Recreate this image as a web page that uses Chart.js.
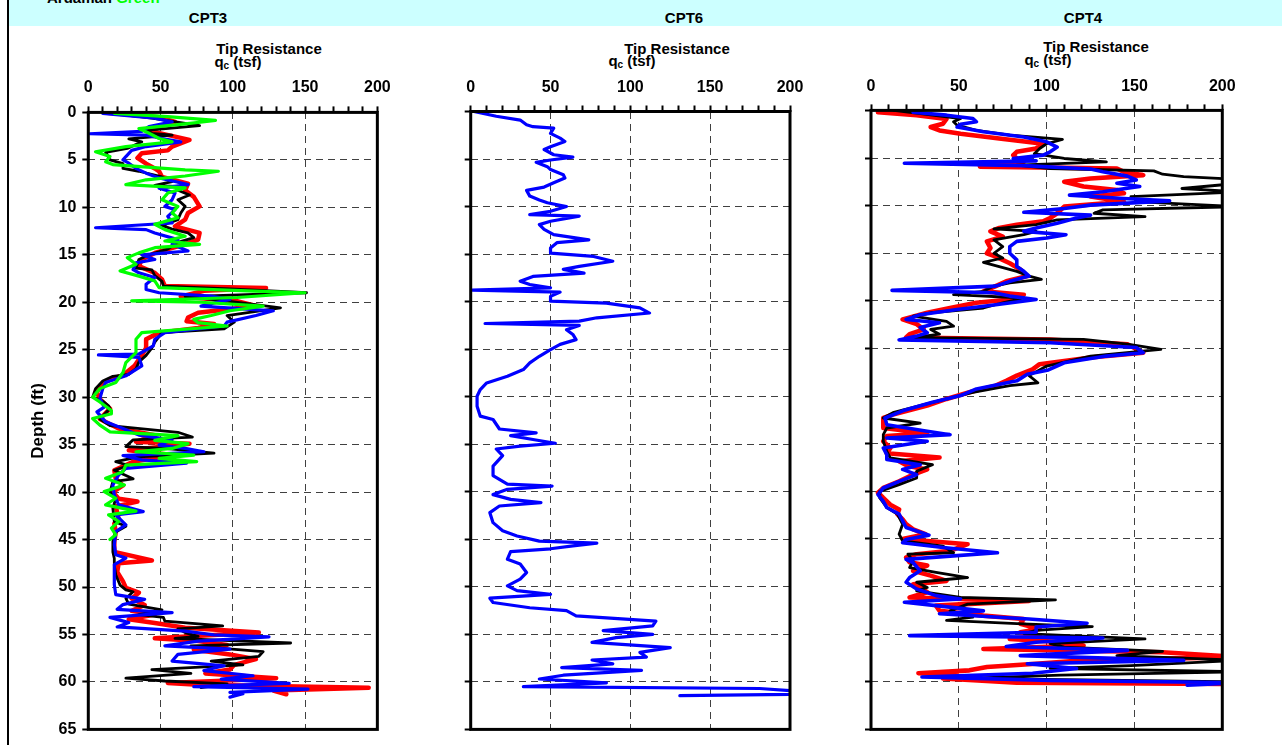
<!DOCTYPE html>
<html>
<head>
<meta charset="utf-8">
<script src="https://cdn.jsdelivr.net/npm/chart.js@4.4.1/dist/chart.umd.min.js"></script>
<style>
    html, body { margin: 0; padding: 0; background: #fff; }
    body { width: 1282px; height: 745px; position: relative; overflow: hidden;
           font-family: "Liberation Sans", Arial, sans-serif; font-weight: bold; color: #000; }
    #band { position: absolute; left: 9px; top: 0; width: 1273px; height: 26px; background: #ccffff; }
    #rule { position: absolute; left: 7px; top: 0; width: 2px; height: 745px; background: #000; }
    .t { position: absolute; font-size: 15px; line-height: 15px; white-space: nowrap; transform: translateX(-50%); }
    .t sub { font-size: 10px; vertical-align: -2px; line-height: 0; }
    .l { position: absolute; font-size: 15px; line-height: 15px; white-space: nowrap; }
    canvas { position: absolute; }
</style>
</head>
<body>
<div id="band"></div>
<div id="rule"></div>
<div class="l" style="left:47px;top:-10px">Ardaman <span style="color:#00ff00">Green</span></div>
<div class="t" style="left:208px;top:10px">CPT3</div>
<div class="t" style="left:684px;top:10px">CPT6</div>
<div class="t" style="left:1083px;top:10px">CPT4</div>

<canvas id="cpt3" width="400" height="670" style="left:0;top:75px"></canvas>
<canvas id="cpt6" width="420" height="670" style="left:400px;top:75px"></canvas>
<canvas id="cpt4" width="440" height="670" style="left:820px;top:75px"></canvas>

<div class="t" style="left:269px;top:41px">Tip Resistance</div>
<div class="t" style="left:238px;top:54px">q<sub>c</sub> (tsf)</div>
<div class="t" style="left:677px;top:40.5px">Tip Resistance</div>
<div class="t" style="left:632px;top:53px">q<sub>c</sub> (tsf)</div>
<div class="t" style="left:1096px;top:39px">Tip Resistance</div>
<div class="t" style="left:1048px;top:51.5px">q<sub>c</sub> (tsf)</div>

<script>
const qcTickLabels = [0, 50, 100, 150, 200];
const depthTitle = 'Depth (ft)';

// CPT3
const cpt3BlackDepth = [0.0, 0.6, 1.4, 1.9, 2.2, 2.4, 2.8, 3.1, 3.8, 4.2, 5.0, 5.4, 5.9, 6.2, 6.8, 7.3, 7.7, 7.8, 8.2, 8.7, 9.2, 9.9, 10.6, 11.3, 11.9, 12.3, 12.7, 13.2, 13.7, 14.4, 15.0, 15.5, 16.4, 16.6, 17.2, 17.8, 18.3, 18.6, 19.0, 19.4, 19.9, 20.6, 21.4, 22.1, 22.8, 23.2, 24.2, 24.8, 25.6, 26.3, 27.0, 27.6, 27.8, 28.3, 29.1, 30.0, 30.4, 30.9, 31.2, 32.3, 33.0, 33.7, 34.2, 34.5, 35.2, 35.4, 35.9, 36.3, 36.8, 37.2, 37.7, 38.6, 38.9, 40.0, 40.7, 41.7, 43.1, 43.6, 44.2, 45.2, 46.3, 47.0, 47.7, 48.7, 49.8, 50.3, 50.5, 51.2, 51.8, 52.4, 52.9, 53.2, 53.6, 54.1, 54.4, 54.8, 55.2, 55.4, 55.9, 56.2, 56.8, 57.3, 57.8, 58.2, 58.7, 59.1, 59.6, 59.9, 60.2, 60.6];
const cpt3BlackQc = [11, 44, 77, 40, 44, 58, 28, 37, 27, 12, 15, 24, 24, 35, 51, 58, 46, 60, 62, 70, 62, 67, 64, 62, 51, 58, 69, 73, 62, 55, 42, 35, 33, 44, 46, 51, 52, 98, 151, 67, 98, 133, 96, 101, 94, 51, 46, 44, 40, 35, 33, 28, 17, 10, 5, 3, 10, 14, 15, 8, 15, 62, 72, 31, 26, 53, 87, 35, 19, 28, 18, 31, 17, 15, 19, 17, 18, 26, 19, 17, 17, 18, 18, 19, 22, 26, 31, 26, 28, 51, 35, 52, 53, 93, 62, 67, 76, 60, 140, 71, 121, 118, 85, 107, 44, 71, 26, 53, 96, 78];

const cpt3RedDepth = [0.0, 0.5, 1.0, 1.5, 2.0, 2.9, 3.6, 4.0, 4.3, 4.8, 5.4, 5.9, 6.2, 6.8, 7.5, 8.2, 8.9, 9.9, 10.6, 11.3, 12.0, 12.7, 13.4, 14.1, 14.8, 15.5, 16.2, 16.9, 17.6, 18.3, 18.5, 18.8, 19.4, 19.9, 20.4, 21.1, 21.6, 22.0, 22.3, 22.7, 23.2, 23.9, 24.8, 25.6, 26.7, 27.7, 28.1, 28.8, 29.5, 30.2, 31.2, 32.3, 33.3, 34.0, 34.7, 34.9, 35.6, 36.1, 36.8, 37.7, 38.6, 39.3, 40.0, 40.7, 41.0, 41.5, 42.8, 43.3, 44.2, 45.2, 46.3, 47.2, 47.5, 48.4, 49.4, 50.1, 50.6, 51.2, 51.9, 52.5, 52.9, 53.4, 53.8, 54.3, 54.8, 55.4, 55.7, 56.1, 56.6, 57.1, 57.6, 58.2, 58.7, 59.1, 59.6, 59.9, 60.1, 60.3, 60.6, 60.9, 61.3];
const cpt3RedQc = [11, 49, 60, 49, 44, 70, 58, 55, 37, 34, 40, 46, 49, 51, 69, 67, 73, 77, 69, 67, 60, 77, 76, 62, 46, 37, 35, 46, 51, 53, 123, 80, 64, 103, 116, 76, 69, 68, 87, 76, 49, 40, 40, 37, 32, 24, 15, 8, 6, 8, 15, 8, 21, 46, 33, 70, 28, 58, 31, 18, 19, 24, 17, 21, 34, 19, 21, 18, 19, 18, 18, 44, 21, 20, 24, 26, 35, 30, 39, 30, 46, 28, 46, 67, 118, 46, 76, 96, 73, 98, 116, 101, 98, 81, 130, 89, 55, 76, 194, 128, 137];

const cpt3BlueDepth = [0.1, 0.6, 1.0, 1.5, 2.0, 2.25, 2.4, 2.75, 3.1, 3.6, 4.0, 4.65, 5.0, 5.35, 5.9, 6.4, 6.9, 7.6, 8.0, 8.5, 9.2, 9.9, 10.25, 10.95, 11.65, 12.15, 12.35, 12.7, 13.4, 13.9, 14.6, 15.0, 15.5, 15.85, 16.55, 16.9, 17.4, 18.1, 18.65, 19.0, 19.35, 19.7, 20.4, 20.9, 21.4, 22.1, 22.5, 23.2, 23.9, 24.6, 25.45, 25.55, 25.8, 26.7, 27.75, 28.45, 29.1, 30.15, 31.05, 31.55, 32.6, 33.3, 34.0, 34.5, 35.05, 35.4, 35.75, 36.15, 36.6, 36.95, 37.5, 38.2, 39.25, 40.3, 41.35, 42.05, 42.4, 43.45, 44.15, 45.55, 46.6, 46.95, 47.65, 48.7, 49.75, 50.8, 51.3, 51.85, 52.35, 52.7, 53.2, 53.75, 54.2, 54.65, 55.05, 55.25, 55.7, 56.2, 56.55, 57.1, 57.8, 58.3, 58.8, 59.35, 59.7, 60.15, 60.5, 60.75, 61.1, 61.25, 61.6];
const cpt3BlueQc = [10, 46, 58, 42, 37, 1, 40, 51, 64, 40, 30, 26, 24, 28, 33, 40, 49, 69, 49, 60, 58, 53, 60, 55, 58, 5, 40, 46, 62, 58, 69, 37, 46, 33, 31, 35, 46, 40, 40, 49, 85, 98, 78, 128, 116, 96, 94, 53, 46, 45, 35, 7, 35, 37, 26, 12, 10, 8, 11, 6, 12, 24, 35, 58, 49, 67, 80, 24, 37, 68, 26, 21, 17, 18, 21, 38, 19, 26, 19, 18, 19, 26, 18, 18, 18, 19, 39, 24, 20, 58, 15, 28, 20, 67, 87, 125, 76, 53, 98, 62, 58, 94, 80, 114, 92, 139, 73, 152, 98, 107, 98];

const cpt3GreenDepth = [0.1, 0.45, 0.85, 1.2, 1.7, 2.2, 2.75, 3.1, 3.6, 4.15, 4.65, 5.2, 5.5, 6.05, 6.2, 6.7, 7.1, 7.6, 7.95, 8.5, 9.2, 9.9, 10.6, 11.1, 11.8, 12.35, 13.05, 13.55, 13.9, 14.25, 14.8, 15.3, 16.0, 16.7, 17.25, 17.75, 18.45, 18.8, 19.0, 19.5, 19.85, 20.0, 20.4, 20.9, 21.4, 21.8, 22.15, 22.5, 23.2, 23.9, 25.3, 26.35, 27.4, 28.45, 29.1, 30.0, 30.5, 31.4, 31.75, 32.25, 32.95, 33.65, 34.05, 34.55, 34.9, 35.4, 35.75, 36.1, 36.45, 36.8, 37.15, 37.85, 38.55, 39.25, 39.95, 40.65, 41.35, 42.0, 42.4, 43.1, 43.8, 44.5, 45.0];
const cpt3GreenQc = [18, 55, 88, 67, 35, 42, 49, 58, 26, 5, 15, 12, 17, 67, 90, 67, 40, 26, 67, 55, 51, 62, 58, 62, 46, 53, 67, 53, 77, 46, 35, 27, 33, 22, 35, 46, 49, 110, 150, 103, 30, 78, 121, 98, 85, 73, 76, 96, 37, 33, 33, 26, 24, 19, 8, 3, 8, 16, 16, 3, 8, 15, 62, 46, 69, 58, 33, 73, 49, 75, 26, 24, 12, 25, 11, 19, 12, 33, 14, 21, 16, 19, 15];

// CPT6
const cpt6BlueDepth = [0.0, 0.5, 0.9, 1.4, 1.6, 1.75, 2.3, 2.8, 3.15, 3.7, 4.0, 4.55, 4.8, 5.1, 5.35, 5.8, 6.1, 6.65, 7.0, 7.5, 7.95, 8.3, 8.9, 9.3, 9.6, 10.0, 10.5, 10.85, 11.0, 11.55, 11.9, 12.4, 12.95, 13.5, 13.8, 14.35, 14.9, 15.25, 15.75, 16.3, 16.6, 17.0, 17.35, 17.85, 18.2, 18.55, 18.8, 19.0, 19.45, 19.95, 20.15, 20.65, 21.2, 21.7, 22.05, 22.3, 22.5, 22.95, 23.45, 24.0, 24.5, 25.05, 25.75, 26.45, 27.15, 27.85, 28.55, 29.25, 29.95, 31.0, 32.05, 32.4, 32.9, 33.4, 33.8, 34.1, 34.5, 34.9, 35.2, 35.5, 36.2, 37.3, 38.3, 39.2, 39.4, 39.75, 40.3, 40.8, 41.15, 41.5, 42.2, 43.25, 44.1, 44.65, 45.2, 45.4, 45.7, 46.0, 46.3, 47.1, 47.6, 48.5, 49.2, 49.9, 50.4, 50.8, 51.2, 51.65, 52.2, 52.5, 53.05, 53.6, 54.1, 54.6, 55.0, 55.35, 55.85, 56.4, 56.9, 57.4, 57.7, 58.1, 58.5, 58.8, 59.3, 59.7, 60.1, 60.5, 60.7, 61.05, 61.3, 61.45];
const cpt6BlueQc = [2, 16, 31, 35, 39, 52, 50, 56, 59, 50, 46, 52, 64, 50, 41, 48, 50, 58, 59, 52, 46, 35, 37, 43, 48, 60, 50, 37, 68, 50, 43, 46, 52, 74, 54, 50, 50, 77, 89, 68, 58, 71, 39, 31, 37, 50, 1, 56, 50, 50, 85, 106, 112, 79, 68, 9, 68, 60, 64, 66, 56, 50, 43, 37, 33, 23, 10, 6, 4, 4, 6, 14, 16, 18, 41, 25, 39, 53, 31, 16, 20, 14, 14, 23, 51, 23, 14, 25, 44, 18, 12, 14, 20, 29, 43, 79, 64, 50, 25, 23, 31, 35, 31, 23, 29, 50, 12, 14, 37, 60, 66, 116, 114, 83, 114, 91, 76, 125, 106, 110, 76, 89, 57, 107, 58, 43, 85, 33, 181, 210, 210, 131];

// CPT4
const cpt4RedDepth = [0.2, 0.5, 0.9, 1.4, 1.75, 2.1, 2.45, 2.95, 3.5, 4.0, 4.35, 4.7, 5.05, 5.4, 5.9, 6.1, 6.45, 6.8, 7.15, 7.5, 8.0, 8.35, 8.7, 9.05, 9.6, 10.1, 10.8, 11.3, 11.65, 12.0, 12.35, 12.7, 13.25, 13.75, 14.45, 15.0, 15.35, 16.05, 16.7, 17.4, 17.95, 18.45, 19.0, 19.35, 19.85, 20.2, 20.75, 21.25, 21.95, 22.45, 23.0, 23.5, 23.85, 24.05, 24.55, 25.45, 25.95, 26.65, 27.2, 27.85, 28.4, 28.9, 29.6, 30.3, 31.0, 31.9, 32.3, 33.35, 33.9, 34.2, 34.75, 35.45, 36.0, 36.45, 36.85, 37.35, 37.7, 38.25, 38.95, 39.65, 40.15, 40.7, 41.4, 41.9, 42.4, 42.95, 43.45, 44.0, 44.5, 45.0, 45.55, 46.25, 46.6, 46.95, 47.45, 47.8, 48.35, 48.85, 49.4, 49.75, 50.1, 50.6, 51.15, 51.5, 52.0, 52.55, 53.05, 53.4, 53.9, 54.45, 54.8, 55.15, 55.5, 55.85, 56.2, 56.55, 56.9, 57.4, 57.75, 58.1, 58.45, 58.8, 59.1, 59.3, 59.65, 60.1, 60.25];
const cpt4RedQc = [4, 26, 43, 41, 34, 39, 51, 73, 98, 94, 83, 81, 83, 87, 62, 140, 144, 155, 125, 110, 121, 140, 144, 125, 144, 110, 106, 102, 98, 83, 73, 68, 75, 66, 68, 66, 71, 79, 85, 89, 77, 71, 64, 87, 79, 60, 45, 32, 18, 26, 30, 22, 20, 102, 146, 155, 125, 96, 92, 83, 77, 71, 56, 43, 32, 13, 7, 7, 32, 9, 7, 11, 9, 39, 16, 21, 32, 24, 16, 7, 4, 7, 11, 16, 15, 18, 20, 24, 31, 18, 55, 45, 26, 20, 22, 32, 24, 34, 43, 24, 28, 32, 22, 90, 37, 39, 64, 87, 85, 96, 85, 96, 79, 110, 121, 64, 166, 210, 121, 94, 66, 56, 27, 49, 41, 83, 210];

const cpt4BlackDepth = [0.0, 0.5, 0.85, 1.2, 1.55, 2.1, 2.6, 3.05, 3.5, 4.0, 4.55, 4.8, 5.05, 5.4, 5.75, 6.1, 6.35, 6.7, 6.95, 7.25, 7.65, 8.2, 8.55, 9.05, 9.6, 10.1, 10.45, 10.8, 11.15, 11.5, 12.0, 12.45, 12.7, 13.05, 13.6, 14.3, 15.0, 15.5, 15.95, 16.4, 16.9, 17.4, 17.75, 18.1, 18.45, 19.0, 19.35, 19.7, 20.2, 20.75, 21.25, 21.6, 22.15, 22.65, 23.0, 23.5, 23.85, 24.05, 24.55, 25.1, 25.8, 26.85, 27.85, 28.6, 28.9, 29.6, 30.65, 31.7, 32.3, 32.85, 33.35, 34.05, 34.75, 35.8, 36.5, 37.2, 37.9, 38.6, 39.3, 40.0, 40.7, 41.7, 42.4, 43.45, 44.5, 45.2, 45.75, 46.45, 46.6, 47.3, 48.0, 48.5, 49.05, 49.55, 50.1, 50.45, 51.15, 51.4, 51.85, 52.55, 53.2, 53.55, 53.9, 54.2, 54.6, 54.95, 55.5, 56.0, 56.35, 56.8, 57.25, 57.75, 58.3, 58.6, 58.95, 59.3, 59.65, 60.0, 60.25];
const cpt4BlackQc = [13, 35, 51, 47, 49, 60, 79, 109, 100, 96, 93, 102, 110, 134, 83, 102, 161, 166, 178, 210, 210, 177, 210, 148, 153, 210, 132, 127, 156, 106, 94, 70, 94, 87, 70, 75, 70, 75, 64, 73, 83, 90, 97, 79, 70, 64, 47, 87, 75, 64, 34, 24, 43, 47, 34, 39, 24, 121, 146, 165, 125, 100, 90, 95, 79, 58, 35, 13, 7, 28, 9, 7, 7, 9, 11, 35, 26, 26, 16, 5, 5, 9, 15, 18, 16, 18, 41, 47, 21, 24, 22, 37, 55, 26, 32, 26, 51, 105, 55, 45, 58, 43, 83, 126, 94, 87, 156, 102, 110, 166, 140, 210, 148, 102, 210, 108, 53, 210, 210];

const cpt4BlueDepth = [0.2, 0.5, 0.85, 1.2, 1.45, 1.75, 2.25, 2.8, 3.3, 3.85, 4.35, 4.7, 5.05, 5.3, 5.55, 5.8, 6.15, 6.45, 6.9, 7.3, 7.65, 8.0, 8.55, 8.9, 9.25, 9.5, 9.95, 10.3, 10.7, 11.0, 11.3, 11.85, 12.35, 12.7, 13.05, 13.4, 13.75, 14.3, 15.0, 15.7, 16.4, 16.9, 17.4, 17.95, 18.45, 18.9, 19.15, 19.5, 19.85, 20.4, 20.9, 21.45, 21.95, 22.3, 22.8, 23.35, 23.7, 24.1, 24.4, 24.9, 25.45, 25.8, 26.5, 27.25, 27.7, 28.4, 29.25, 29.95, 30.65, 31.55, 32.3, 33.0, 33.7, 34.05, 34.4, 34.75, 35.45, 36.15, 36.65, 37.2, 37.7, 38.25, 38.95, 39.65, 40.35, 41.05, 41.7, 42.4, 43.1, 43.8, 44.6, 45.05, 45.4, 45.9, 46.45, 46.8, 47.15, 47.5, 48.35, 49.05, 49.55, 50.25, 50.95, 51.3, 51.65, 52.0, 52.55, 52.85, 53.4, 53.85, 54.25, 54.8, 55.15, 55.4, 55.85, 56.3, 56.7, 57.25, 57.75, 58.1, 58.6, 59.1, 59.5, 59.85, 60.1, 60.35];
const cpt4BlueQc = [24, 43, 58, 60, 51, 49, 64, 87, 100, 106, 102, 98, 81, 94, 19, 87, 125, 132, 146, 151, 140, 153, 132, 113, 144, 170, 125, 110, 87, 125, 117, 106, 94, 87, 111, 100, 83, 79, 79, 83, 83, 87, 90, 79, 71, 12, 70, 79, 94, 71, 49, 28, 20, 39, 28, 32, 26, 16, 102, 151, 155, 134, 110, 101, 89, 83, 60, 51, 35, 18, 8, 9, 32, 45, 9, 32, 7, 9, 9, 28, 18, 26, 16, 7, 4, 7, 9, 16, 18, 20, 33, 20, 18, 41, 72, 45, 20, 24, 28, 22, 20, 26, 37, 51, 19, 37, 64, 39, 90, 123, 94, 94, 22, 132, 94, 77, 146, 85, 178, 89, 117, 92, 29, 102, 210, 180];

Chart.defaults.font.family = "'Liberation Sans', Arial, sans-serif";
Chart.defaults.font.weight = 'bold';
Chart.defaults.color = '#000';

const frame = {
    id: 'frame',
    afterDraw(chart) {
        const { ctx, chartArea: a } = chart;
        ctx.save();
        ctx.strokeStyle = '#000';
        ctx.lineWidth = 3;
        ctx.strokeRect(a.left, a.top, a.right - a.left, a.bottom - a.top);
        ctx.restore();
    }
};

function serie(depth, qc, color, width) {
    return {
        data: depth.map((d, i) => ({ x: qc[i], y: d })),
        showLine: true,
        borderColor: color,
        backgroundColor: color,
        borderWidth: width,
        pointRadius: 0,
        tension: 0,
        clip: 0,
        borderJoinStyle: 'round',
        borderCapStyle: 'round'
    };
}

function criarPainel(id, datasets, box) {
    new Chart(document.getElementById(id), {
        type: 'scatter',
        data: { datasets: datasets },
        plugins: [frame],
        options: {
            responsive: false,
            animation: false,
            events: [],
            layout: { padding: { left: 0, top: 0, right: box.right, bottom: box.bottom } },
            plugins: { legend: { display: false }, tooltip: { enabled: false } },
            scales: {
                x: {
                    type: 'linear',
                    position: 'top',
                    min: 0,
                    max: 200,
                    afterFit: s => { s.height = box.top; },
                    ticks: {
                        stepSize: 10,
                        autoSkip: false,
                        maxRotation: 0,
                        padding: box.labelPad,
                        font: { size: 16, weight: 'bold' },
                        callback: v => qcTickLabels.includes(v) ? String(v) : ''
                    },
                    grid: {
                        color: c => (c.tick && c.tick.value % 50 === 0 && c.tick.value > 0 && c.tick.value < 200) ? '#404040' : 'rgba(0,0,0,0)',
                        lineWidth: 1,
                        tickLength: 6,
                        tickColor: '#000',
                        tickWidth: 2
                    },
                    border: { display: false, dash: [7, 5] }
                },
                y: {
                    type: 'linear',
                    reverse: true,
                    min: 0,
                    max: 65,
                    afterFit: s => { s.width = box.left; },
                    title: {
                        display: box.showDepth,
                        text: depthTitle,
                        font: { size: 17, weight: 'bold' },
                        padding: { top: 28, bottom: 0 }
                    },
                    ticks: {
                        stepSize: 5,
                        autoSkip: false,
                        padding: 6,
                        font: { size: 16, weight: 'bold' },
                        callback: v => box.showDepth ? String(v) : ''
                    },
                    grid: {
                        color: c => (c.tick && c.tick.value > 0 && c.tick.value < 65) ? '#404040' : 'rgba(0,0,0,0)',
                        lineWidth: 1,
                        tickLength: 6,
                        tickColor: '#000',
                        tickWidth: 2
                    },
                    border: { display: false, dash: [7, 5] }
                }
            }
        }
    });
}

document.addEventListener('DOMContentLoaded', () => {
    criarPainel('cpt3', [
        serie(cpt3GreenDepth, cpt3GreenQc, '#00ff00', 3.2),
        serie(cpt3BlueDepth, cpt3BlueQc, '#0000ff', 3.2),
        serie(cpt3BlackDepth, cpt3BlackQc, '#000000', 2.8),
        serie(cpt3RedDepth, cpt3RedQc, '#ff0000', 4.5)
    ], { left: 88.3, top: 37.4, right: 16.7, bottom: 13.1, labelPad: 9.3, showDepth: true });

    criarPainel('cpt6', [
        serie(cpt6BlueDepth, cpt6BlueQc, '#0000ff', 3.2)
    ], { left: 70.7, top: 36.5, right: 30, bottom: 14.7, labelPad: 8.7, showDepth: false });

    criarPainel('cpt4', [
        serie(cpt4BlueDepth, cpt4BlueQc, '#0000ff', 3.6),
        serie(cpt4BlackDepth, cpt4BlackQc, '#000000', 2.8),
        serie(cpt4RedDepth, cpt4RedQc, '#ff0000', 4.6)
    ], { left: 51, top: 35.4, right: 37.7, bottom: 12, labelPad: 8.1, showDepth: false });
});
</script>
</body>
</html>
